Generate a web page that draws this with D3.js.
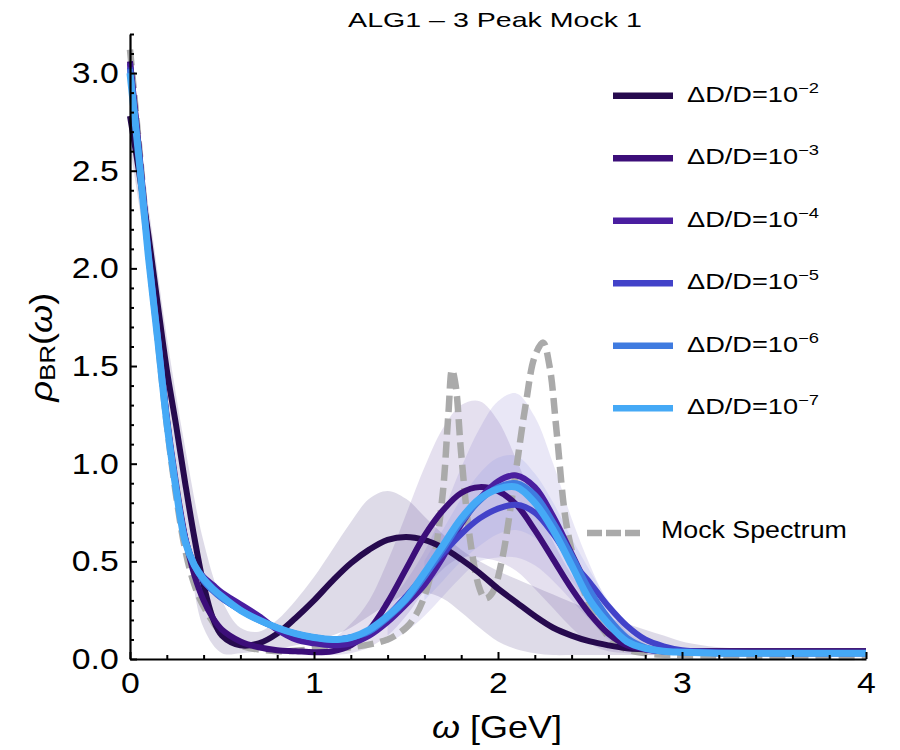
<!DOCTYPE html>
<html><head><meta charset="utf-8">
<script src="https://cdn.jsdelivr.net/npm/d3@7"></script>
<style>body{margin:0;background:#fff}svg text{font-family:"Liberation Sans",Arial,Helvetica,sans-serif;fill:#000}</style>
</head><body><svg id="c" width="900" height="750"></svg>
<script>
// ---------- data ----------
const titleText = "ALG1 \u2013 3 Peak Mock 1";
const seriesExponents = ["\u22122","\u22123","\u22124","\u22125","\u22126","\u22127"];
const seriesColors = ["#260a4e","#3c0e79","#4a1ea0","#4242c9","#3f7be0","#45a9f6"];
const xTicks = [0,1,2,3,4];
const yTicks = [0,0.5,1.0,1.5,2.0,2.5,3.0];

const omega = [0,0.05,0.1,0.15,0.2,0.25,0.3,0.35,0.4,0.45,0.5,0.6,0.7,0.8,0.9,1.0,1.1,1.2,1.3,1.4,1.5,1.6,1.7,1.8,1.9,2.0,2.1,2.2,2.3,2.4,2.5,2.6,2.7,2.8,2.9,3.0,3.2,3.5,4.0];
const rhoE2 = [2.78,2.49,2.17,1.82,1.48,1.20,0.90,0.62,0.38,0.21,0.12,0.07,0.08,0.13,0.21,0.30,0.40,0.49,0.56,0.61,0.625,0.61,0.57,0.51,0.44,0.36,0.29,0.22,0.16,0.12,0.09,0.07,0.055,0.05,0.045,0.04,0.04,0.04,0.04];
const rhoE3 = [3.06,2.60,2.10,1.67,1.24,0.90,0.62,0.43,0.30,0.21,0.15,0.09,0.06,0.045,0.04,0.035,0.04,0.07,0.15,0.29,0.46,0.63,0.76,0.85,0.88,0.86,0.79,0.66,0.51,0.36,0.23,0.13,0.07,0.05,0.04,0.04,0.04,0.04,0.04];
const rhoE4 = [3.05,2.58,2.08,1.66,1.23,0.88,0.62,0.48,0.42,0.38,0.34,0.28,0.22,0.15,0.10,0.08,0.07,0.08,0.12,0.19,0.28,0.38,0.52,0.69,0.82,0.91,0.94,0.88,0.73,0.54,0.35,0.19,0.09,0.05,0.04,0.035,0.03,0.03,0.03];
const rhoE5 = [3.03,2.56,2.07,1.65,1.22,0.88,0.61,0.48,0.40,0.35,0.31,0.25,0.20,0.16,0.13,0.11,0.10,0.11,0.14,0.22,0.32,0.43,0.54,0.64,0.72,0.77,0.79,0.75,0.64,0.50,0.39,0.27,0.17,0.10,0.065,0.045,0.035,0.03,0.03];
const rhoE6 = [3.02,2.56,2.07,1.65,1.22,0.88,0.61,0.48,0.40,0.35,0.31,0.25,0.20,0.16,0.13,0.11,0.10,0.11,0.14,0.21,0.30,0.42,0.56,0.70,0.81,0.88,0.90,0.84,0.70,0.53,0.35,0.21,0.11,0.06,0.04,0.035,0.03,0.03,0.03];
const rhoE7 = [3.00,2.55,2.06,1.64,1.21,0.87,0.60,0.48,0.41,0.36,0.32,0.25,0.20,0.16,0.13,0.11,0.10,0.11,0.15,0.22,0.31,0.44,0.58,0.72,0.82,0.87,0.88,0.80,0.66,0.48,0.30,0.18,0.09,0.055,0.04,0.035,0.03,0.03,0.03];

const mockOmega = [0,0.05,0.1,0.15,0.2,0.25,0.3,0.35,0.4,0.5,0.6,0.8,1.0,1.2,1.4,1.5,1.55,1.6,1.65,1.7,1.73,1.75,1.77,1.8,1.85,1.9,1.93,1.97,2.02,2.08,2.15,2.2,2.245,2.28,2.32,2.37,2.43,2.5,2.55,2.65,2.8,3.0,4.0];
const mockRho   = [3.12,2.62,2.1,1.64,1.2,0.84,0.56,0.38,0.27,0.13,0.07,0.04,0.05,0.06,0.1,0.16,0.22,0.32,0.5,0.85,1.25,1.48,1.4,1.05,0.6,0.36,0.31,0.34,0.5,0.85,1.3,1.55,1.62,1.5,1.15,0.7,0.45,0.27,0.18,0.07,0.03,0.02,0.01];

const bandOmega = [0,0.1,0.2,0.3,0.4,0.5,0.6,0.7,0.8,0.9,1.0,1.1,1.2,1.3,1.4,1.5,1.6,1.7,1.8,1.9,2.0,2.1,2.2,2.3,2.4,2.5,2.6,2.7,2.8,2.9,3.0,3.2,3.5,4.0];
const bandE2Lo = [2.62,2.02,1.35,0.68,0.16,0.03,0.03,0.04,0.05,0.07,0.09,0.12,0.16,0.22,0.28,0.33,0.34,0.31,0.24,0.16,0.09,0.05,0.03,0.02,0.02,0.02,0.02,0.02,0.02,0.02,0.02,0.02,0.02,0.02];
const bandE2Hi = [2.95,2.32,1.65,1.08,0.60,0.30,0.16,0.14,0.20,0.30,0.42,0.56,0.70,0.82,0.86,0.82,0.73,0.64,0.56,0.50,0.45,0.41,0.37,0.33,0.29,0.25,0.21,0.18,0.15,0.12,0.09,0.06,0.05,0.05];
const bandE3Lo = [null,null,null,null,null,null,null,null,null,null,0.02,0.02,0.03,0.06,0.12,0.22,0.35,0.46,0.52,0.52,0.50,0.45,0.36,0.26,0.16,0.08,0.04,0.03,0.02,0.02,0.02,null,null,null];
const bandE3Hi = [null,null,null,null,null,null,null,null,null,null,0.06,0.10,0.18,0.30,0.50,0.74,0.98,1.18,1.30,1.32,1.22,1.02,0.80,0.60,0.43,0.30,0.20,0.12,0.08,0.06,0.05,null,null,null];
const bandE4Lo = [null,null,null,null,null,null,null,null,null,null,null,null,null,null,0.08,0.14,0.22,0.32,0.42,0.50,0.52,0.52,0.48,0.40,0.30,0.20,0.10,0.05,0.03,null,null,null,null,null];
const bandE4Hi = [null,null,null,null,null,null,null,null,null,null,null,null,null,null,0.28,0.40,0.55,0.75,0.98,1.18,1.32,1.36,1.24,1.00,0.72,0.48,0.28,0.14,0.08,null,null,null,null,null];
const bandE5Lo = [null,null,null,null,null,null,null,null,null,null,null,null,null,null,null,null,0.30,0.40,0.50,0.58,0.64,0.66,0.62,0.52,0.40,0.28,0.16,0.08,0.04,null,null,null,null,null];
const bandE5Hi = [null,null,null,null,null,null,null,null,null,null,null,null,null,null,null,null,0.50,0.66,0.82,0.95,1.03,1.04,0.95,0.80,0.62,0.45,0.30,0.17,0.08,null,null,null,null,null];

// ---------- drawing ----------
const svg = d3.select("#c");
const FONT = '"Liberation Sans",Arial,Helvetica,sans-serif';
const x = d3.scaleLinear().domain([0,4]).range([130,866]);
const y = d3.scaleLinear().domain([0,3.2]).range([659,34]);

const bands = [
  {lo:bandE2Lo, hi:bandE2Hi, color:"#5b4a8a", op:0.2},
  {lo:bandE3Lo, hi:bandE3Hi, color:"#5b3f99", op:0.16},
  {lo:bandE4Lo, hi:bandE4Hi, color:"#6a60c0", op:0.15},
  {lo:bandE5Lo, hi:bandE5Hi, color:"#6f7fe0", op:0.14}
];
bands.forEach(b=>{
  const area = d3.area()
    .defined((d,i)=>b.lo[i]!=null)
    .x((d,i)=>x(bandOmega[i]))
    .y0((d,i)=>y(b.lo[i]))
    .y1((d,i)=>y(b.hi[i]))
    .curve(d3.curveCatmullRom);
  svg.append("path").datum(bandOmega).attr("d",area).attr("fill",b.color).attr("fill-opacity",b.op);
});

// mock spectrum
const mockLine = d3.line().x((d,i)=>x(mockOmega[i])).y(d=>y(d)).curve(d3.curveCatmullRom);
svg.append("path").datum(mockRho).attr("d",mockLine)
  .attr("fill","none").attr("stroke","#aaaaaa").attr("stroke-width",6.5).attr("stroke-dasharray","16,7");

// curves
const series = [rhoE2,rhoE3,rhoE4,rhoE5,rhoE6,rhoE7];
const line = d3.line().x((d,i)=>x(omega[i])).y(d=>y(d)).curve(d3.curveCatmullRom);
series.forEach((s,k)=>{
  svg.append("path").datum(s).attr("d",line).attr("fill","none")
    .attr("stroke",seriesColors[k]).attr("stroke-width",k===5?7:6).attr("stroke-linejoin","round");
});

// helper for measuring text
function measure(str,size){
  const t = svg.append("text").attr("font-size",size).attr("font-family",FONT).text(str);
  const w = t.node().getComputedTextLength(); t.remove(); return w;
}
const tickScale = 47/measure("0.5",30);

// axes
const yAxis = d3.axisLeft(y).tickValues(yTicks).tickSize(-7).tickSizeOuter(0).tickPadding(10).tickFormat(d3.format(".1f"));
const yMinor = d3.axisLeft(y).tickValues(d3.range(0,33).map(i=>i/10).filter(v=>Math.abs(v*2-Math.round(v*2))>1e-6)).tickSize(-4).tickFormat("");
const xAxis = d3.axisBottom(x).tickValues(xTicks).tickSize(-7).tickSizeOuter(0).tickPadding(13).tickFormat(d3.format("d"));
const xMinor = d3.axisBottom(x).tickValues(d3.range(0,20).map(i=>i/5).filter(v=>Math.abs(v-Math.round(v))>1e-6)).tickSize(-4).tickFormat("");

const gyM = svg.append("g").attr("transform","translate(130,0)").call(yMinor);
const gxM = svg.append("g").attr("transform","translate(0,659)").call(xMinor);
[gyM,gxM].forEach(g=>{g.select(".domain").remove(); g.selectAll("line").attr("stroke","#000").attr("stroke-width",2);});
const gy = svg.append("g").attr("transform","translate(130,0)").call(yAxis);
const gx = svg.append("g").attr("transform","translate(0,659)").call(xAxis);
[gx,gy].forEach(g=>{
  g.attr("font-family",FONT).attr("font-size",30);
  g.select(".domain").attr("stroke","#000").attr("stroke-width",2.2);
  g.selectAll(".tick line").attr("stroke","#000").attr("stroke-width",2);
  g.selectAll(".tick text").attr("fill","#000").attr("transform",`scale(${tickScale},1)`);
});

// text helper: place text at (tx,ty) scaled to a target width
function fitted(tx,ty,target,rot,build,anchor){
  const t = svg.append("text").attr("text-anchor",anchor||"start");
  build(t);
  const w = t.node().getBBox().width;
  const k = target/w;
  t.attr("transform",`translate(${tx},${ty})${rot?" rotate("+rot+")":""} scale(${k},1)`);
  return t;
}

// title
fitted(495,27,294,0,t=>t.attr("font-size",20.5).text(titleText),"middle");

// x label
fitted(497,738,130,0,t=>{
  t.attr("font-size",31);
  t.append("tspan").attr("font-style","italic").text("\u03c9");
  t.append("tspan").text(" [GeV]");
},"middle");

// y label
fitted(52,347,110,-90,t=>{
  t.attr("font-size",31);
  t.append("tspan").attr("font-style","italic").text("\u03c1");
  t.append("tspan").attr("font-size",22).attr("dy",3).text("BR");
  t.append("tspan").attr("dy",-3).text("(");
  t.append("tspan").attr("font-style","italic").text("\u03c9");
  t.append("tspan").text(")");
},"middle");

// legend
seriesExponents.forEach((e,i)=>{
  const ly = 95.7 + 62.5*i;
  svg.append("line").attr("x1",613).attr("x2",673).attr("y1",ly).attr("y2",ly)
    .attr("stroke",seriesColors[i]).attr("stroke-width",6.5);
  fitted(687,ly+6,132,0,t=>{
    t.attr("font-size",21.5);
    t.append("tspan").text("\u0394D/D=10");
    t.append("tspan").attr("font-size",14.5).attr("dy",-9).text(e);
  });
});
svg.append("line").attr("x1",587).attr("x2",640).attr("y1",533).attr("y2",533)
  .attr("stroke","#aaaaaa").attr("stroke-width",6.5).attr("stroke-dasharray","15,4");
fitted(661,538,186,0,t=>t.attr("font-size",23).text("Mock Spectrum"));
</script></body></html>
